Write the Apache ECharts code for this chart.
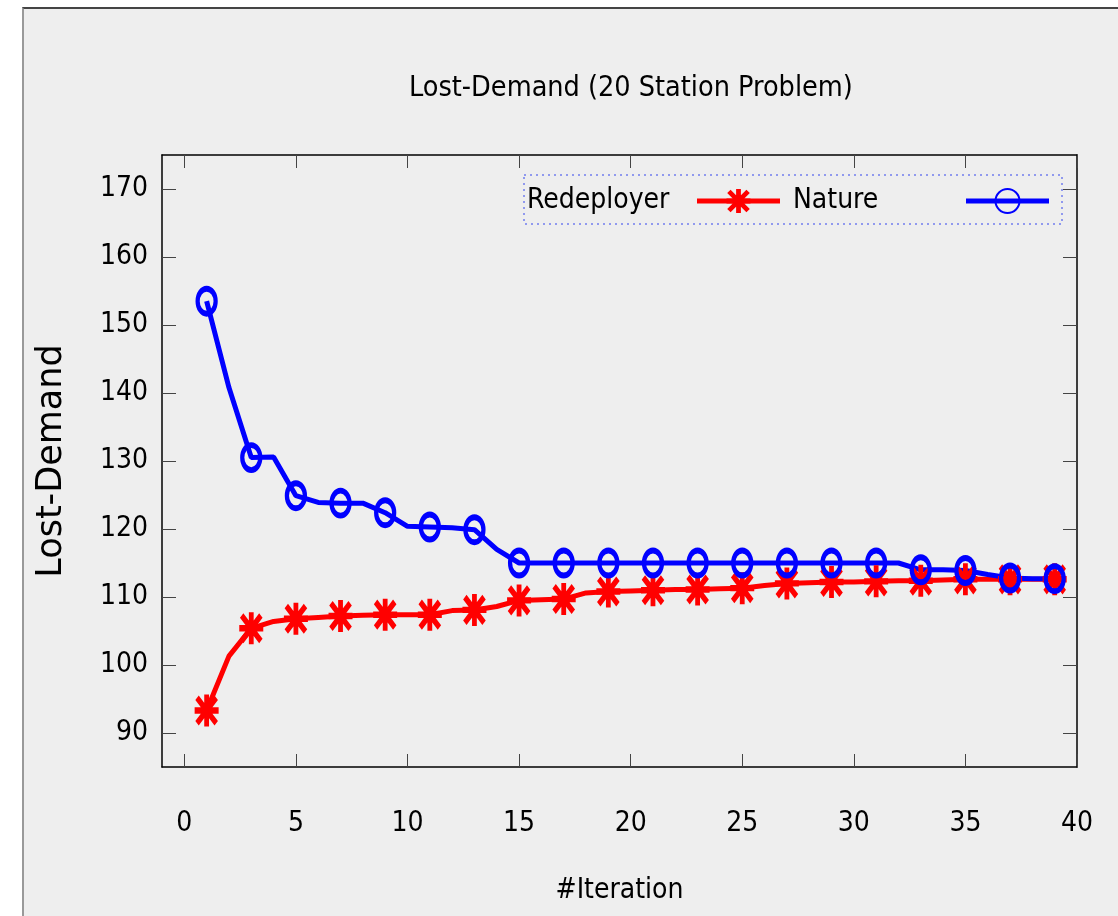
<!DOCTYPE html>
<html>
<head>
<meta charset="utf-8">
<script src="https://cdn.jsdelivr.net/npm/echarts@6/dist/echarts.min.js"></script>
<style>
  html, body { margin: 0; padding: 0; background: #fff; }
  #panel {
    position: absolute; left: 22px; top: 7px; width: 1200px; height: 1000px;
    background: #eeeeee; border-left: 2px solid #999; border-top: 2px solid #444;
  }
  #main { position: absolute; left: 0; top: 0; width: 1118px; height: 916px; }
</style>
</head>
<body>
<div id="panel"></div>
<div id="main"></div>
<script>
  // data
  var iterations = [1, 2, 3, 4, 5, 6, 7, 8, 9, 10, 11, 12, 13, 14, 15, 16, 17, 18, 19, 20,
                    21, 22, 23, 24, 25, 26, 27, 28, 29, 30, 31, 32, 33, 34, 35, 36, 37, 38, 39];
  var redeployer = [93.3, 101.3, 105.4, 106.4, 106.8, 107.0, 107.2, 107.3, 107.4, 107.4,
                    107.4, 108.0, 108.1, 108.6, 109.5, 109.6, 109.7, 110.6, 110.8, 110.9,
                    111.0, 111.1, 111.1, 111.2, 111.3, 111.7, 112.0, 112.1, 112.2, 112.2,
                    112.3, 112.4, 112.4, 112.5, 112.6, 112.6, 112.6, 112.6, 112.6];
  var nature = [153.5, 140.8, 130.5, 130.6, 124.9, 123.9, 123.8, 123.8, 122.4, 120.4,
                120.3, 120.2, 119.9, 117.0, 115.0, 115.0, 115.0, 115.0, 115.0, 115.0,
                115.0, 115.0, 115.0, 115.0, 115.0, 115.0, 115.0, 115.0, 115.0, 115.0,
                115.0, 115.0, 114.0, 114.0, 113.9, 113.3, 112.8, 112.7, 112.7];
  var xTicks = [0, 5, 10, 15, 20, 25, 30, 35, 40];
  var yTicks = [90, 100, 110, 120, 130, 140, 150, 160, 170];

  var narrow = "'Liberation Sans Narrow', 'DejaVu Sans Condensed', sans-serif";
  var star = 'path://M40 0L60 0L60 100L40 100Z M0 40L100 40L100 60L0 60Z ' +
             'M17.07 2.93L97.07 82.93L82.93 97.07L2.93 17.07Z ' +
             'M82.93 2.93L97.07 17.07L17.07 97.07L2.93 82.93Z';

  // markers on every second point, like gnuplot pointinterval 2
  function points(values) {
    return iterations.map(function (x, i) {
      var p = { value: [x, values[i]] };
      if (i % 2 === 1) p.symbol = 'none';
      return p;
    });
  }

  // gnuplot style key: text, then the line sample, in fixed width columns
  function keyEntry(name, left, textWidth) {
    return {
      data: [name], left: left, top: 187, align: 'right', padding: 0,
      itemWidth: 83, itemHeight: 30,
      lineStyle: { width: 5 },
      formatter: '{t|{name}}',
      textStyle: {
        fontFamily: narrow, fontSize: 28, color: '#000',
        rich: { t: { width: textWidth, align: 'left', fontFamily: narrow, fontSize: 28, color: '#000' } }
      }
    };
  }

  var tick = { color: '#444', width: 1 };
  var frame = { color: '#000', width: 1.5 };

  var chart = echarts.init(document.getElementById('main'));
  chart.setOption({
    animation: false,
    title: {
      text: 'Lost-Demand (20 Station Problem)',
      left: 404, top: 69,
      textStyle: { fontFamily: narrow, fontSize: 28.5, fontWeight: 'normal', color: '#000' }
    },
    grid: { left: 162, top: 155, right: 41, bottom: 149 },
    legend: [keyEntry('Redeployer', 527, 165), keyEntry('Nature', 793, 168)],
    graphic: [{
      type: 'rect', shape: { x: 524, y: 175, width: 538, height: 49 },
      style: { fill: 'none', stroke: '#3344ee', lineWidth: 1, lineDash: [2, 4] }
    }],
    xAxis: [{
      type: 'value', position: 'bottom', min: -1, max: 40,
      name: '#Iteration', nameLocation: 'middle', nameGap: 110,
      nameTextStyle: { fontFamily: narrow, fontSize: 28, color: '#000' },
      axisLine: { onZero: false, lineStyle: frame },
      axisTick: { inside: true, length: 13, customValues: xTicks, lineStyle: tick },
      axisLabel: { customValues: xTicks, margin: 43, fontFamily: narrow, fontSize: 28, color: '#000' },
      splitLine: { show: false }
    }, {
      type: 'value', position: 'top', min: -1, max: 40,
      axisLine: { onZero: false, lineStyle: frame },
      axisTick: { inside: true, length: 13, customValues: xTicks, lineStyle: tick },
      axisLabel: { show: false },
      splitLine: { show: false }
    }],
    yAxis: [{
      type: 'value', position: 'left', min: 85, max: 175,
      name: 'Lost-Demand', nameLocation: 'middle', nameGap: 93, nameRotate: 90,
      nameTextStyle: { fontFamily: 'DejaVu Sans', fontSize: 35, color: '#000' },
      axisLine: { onZero: false, lineStyle: frame },
      axisTick: { inside: true, length: 14, customValues: yTicks, lineStyle: tick },
      axisLabel: { customValues: yTicks, margin: 14, fontFamily: narrow, fontSize: 28, color: '#000' },
      splitLine: { show: false }
    }, {
      type: 'value', position: 'right', min: 85, max: 175,
      axisLine: { onZero: false, lineStyle: frame },
      axisTick: { inside: true, length: 14, customValues: yTicks, lineStyle: tick },
      axisLabel: { show: false },
      splitLine: { show: false }
    }],
    series: [{
      name: 'Redeployer', type: 'line',
      data: points(redeployer),
      symbol: star, symbolSize: [24, 32], showAllSymbol: true,
      lineStyle: { color: '#ff0000', width: 5 },
      itemStyle: { color: '#ff0000', borderWidth: 0 }
    }, {
      name: 'Nature', type: 'line',
      data: points(nature),
      symbol: 'circle', symbolSize: [18, 25], showAllSymbol: true,
      lineStyle: { color: '#0000ff', width: 5 },
      itemStyle: { color: 'rgba(0,0,0,0)', borderColor: '#0000ff', borderWidth: 5 }
    }]
  });
</script>
</body>
</html>
